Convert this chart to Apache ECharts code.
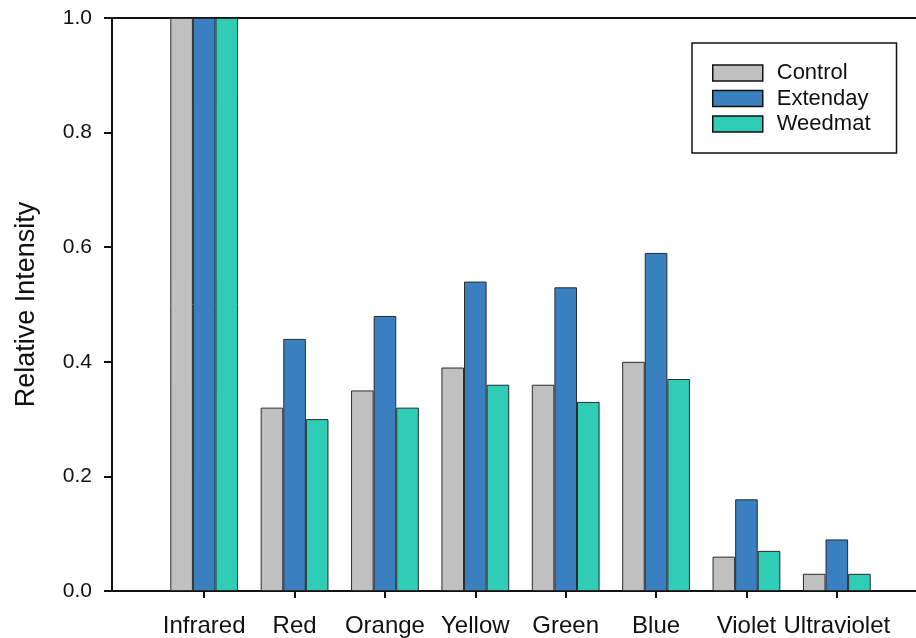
<!DOCTYPE html>
<html>
<head>
<meta charset="utf-8">
<style>
  html, body { margin: 0; padding: 0; background: #fff; }
  #chart { width: 916px; height: 638px; }
</style>
<script src="https://cdn.jsdelivr.net/npm/echarts@6/dist/echarts.min.js"></script>
</head>
<body>
<div id="chart"></div>
<script>
// Spectral bands and the relative intensity measured under each treatment
const categories = ['Infrared', 'Red', 'Orange', 'Yellow', 'Green', 'Blue', 'Violet', 'Ultraviolet'];
const control  = [1.00, 0.32, 0.35, 0.39, 0.36, 0.40, 0.06, 0.03];
const extenday = [1.00, 0.44, 0.48, 0.54, 0.53, 0.59, 0.16, 0.09];
const weedmat  = [1.00, 0.30, 0.32, 0.36, 0.33, 0.37, 0.07, 0.03];
const yTicks = [0.0, 0.2, 0.4, 0.6, 0.8, 1.0];

const FONT = '"Liberation Sans", Arial, sans-serif';
const ink = '#111';
const edge = { borderColor: '#2a2a2a', borderWidth: 1 };

const chart = echarts.init(document.getElementById('chart'), null, { renderer: 'canvas' });

function barSeries(name, data, color) {
  return {
    name: name,
    type: 'bar',
    data: data,
    xAxisIndex: 0,
    yAxisIndex: 0,
    barGap: '0%',
    barCategoryGap: '25%',
    itemStyle: Object.assign({ color: color }, edge),
    emphasis: { disabled: true }
  };
}

chart.setOption({
  animation: false,
  backgroundColor: '#ffffff',
  textStyle: { fontFamily: FONT },
  grid: [
    // plotting area for the bars
    { left: 159, right: 34, top: 18, bottom: 47, containLabel: false },
    // frame spanning the full width (bottom and top lines)
    { left: 112, right: -20, top: 18, bottom: 47, containLabel: false }
  ],
  legend: {
    orient: 'vertical',
    left: 692,
    top: 43,
    padding: [19, 26, 18, 20],
    icon: 'rect',
    itemWidth: 50,
    itemHeight: 16,
    itemGap: 3.5,
    borderColor: ink,
    borderWidth: 1.5,
    backgroundColor: '#fff',
    textStyle: { fontFamily: FONT, fontSize: 22, color: ink, padding: [0, 0, 0, 9] },
    data: ['Control', 'Extenday', 'Weedmat'],
    itemStyle: { borderColor: ink, borderWidth: 1.5 }
  },
  xAxis: [
    {
      type: 'category',
      gridIndex: 0,
      data: categories,
      boundaryGap: true,
      axisLine: { show: false },
      axisTick: { show: true, alignWithLabel: true, length: 7, lineStyle: { color: ink, width: 2 } },
      axisLabel: { interval: 0, margin: 23, fontSize: 24, color: ink, fontFamily: FONT },
      splitLine: { show: false }
    },
    {
      type: 'value',
      gridIndex: 1,
      position: 'bottom',
      min: 0, max: 1,
      axisLine: { show: true, lineStyle: { color: ink, width: 2 } },
      axisTick: { show: false },
      axisLabel: { show: false },
      splitLine: { show: false }
    },
    {
      type: 'value',
      gridIndex: 1,
      position: 'top',
      min: 0, max: 1,
      axisLine: { show: true, lineStyle: { color: ink, width: 2 } },
      axisTick: { show: false },
      axisLabel: { show: false },
      splitLine: { show: false }
    }
  ],
  yAxis: [
    {
      type: 'value',
      gridIndex: 0,
      min: yTicks[0],
      max: yTicks[yTicks.length - 1],
      interval: 0.2,
      offset: 47,
      name: 'Relative Intensity',
      nameLocation: 'middle',
      nameGap: 72,
      nameTextStyle: { fontSize: 27, color: ink, fontFamily: FONT },
      axisLine: { show: true, lineStyle: { color: ink, width: 2 } },
      axisTick: { show: true, length: 8, lineStyle: { color: ink, width: 2 } },
      axisLabel: {
        margin: 20, fontSize: 21, color: ink, fontFamily: FONT,
        formatter: v => Number(v).toFixed(1)
      },
      splitLine: { show: false }
    },
    {
      type: 'value',
      gridIndex: 1,
      min: 0, max: 1,
      show: false
    }
  ],
  series: [
    barSeries('Control', control, '#c0c0c0'),
    barSeries('Extenday', extenday, '#3a80c1'),
    barSeries('Weedmat', weedmat, '#2fcdb6')
  ]
});
</script>
</body>
</html>
